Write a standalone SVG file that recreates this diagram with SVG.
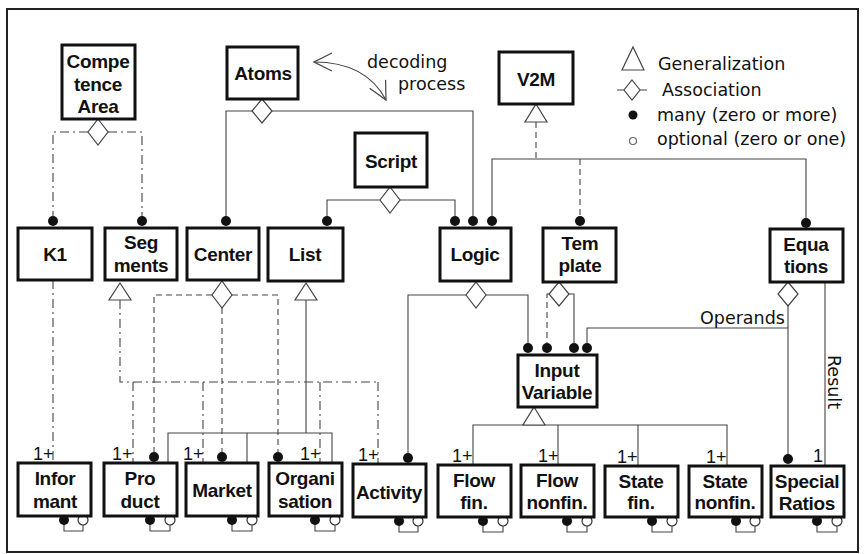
<svg xmlns="http://www.w3.org/2000/svg" width="864" height="554" viewBox="0 0 864 554">
  <defs>
    <style>
      .frame{fill:#fff;stroke:#222;stroke-width:2}
      .box{fill:#fff;stroke:#111;stroke-width:3}
      .lbl{font-family:"Liberation Sans",Arial,sans-serif;font-weight:bold;font-size:19px;letter-spacing:-0.3px;text-anchor:middle;fill:#111}
      .txt{font-family:"DejaVu Sans",Verdana,sans-serif;font-size:17.5px;fill:#111}
      .mult{font-family:"Liberation Sans",Arial,sans-serif;font-size:18px;fill:#111}
      .ln{fill:none;stroke:#444;stroke-width:1.1}
      .dash{stroke-dasharray:6 4}
      .dashdot{stroke-dasharray:9 4 2 4}
      .gen,.assoc{fill:#fff;stroke:#444;stroke-width:1.2}
      .dot{fill:#111}
      .opt{fill:#fff;stroke:#333;stroke-width:1.2}
    </style>
    <marker id="vee" viewBox="0 0 20 20" refX="19" refY="10" markerWidth="20" markerHeight="20" markerUnits="userSpaceOnUse" orient="auto-start-reverse">
      <path d="M1,1 L19,10 L1,19" fill="none" stroke="#444" stroke-width="1.2"/>
    </marker>
  </defs>

  <rect class="frame" x="7" y="9" width="851" height="543"/>

  <!-- connectors -->
  <g id="connectors">
    <!-- Competence Area association -->
    <path class="ln dashdot" d="M88,132 H53 V216 M108,132 H142 V216"/>
    <polygon class="assoc" points="98,119 108,132 98,145 88,132"/>
    <!-- K1 to Informant -->
    <path class="ln dashdot" d="M53,280 V463"/>

    <!-- Atoms association -->
    <path class="ln" d="M252,111 H226 V216 M272,111 H473 V216"/>
    <polygon class="assoc" points="262,99 272,111 262,123 252,111"/>

    <!-- Script association -->
    <path class="ln" d="M380,200 H327 V216 M400,200 H455 V216"/>
    <polygon class="assoc" points="390,187 400,200 390,213 380,200"/>

    <!-- V2M generalization -->
    <path class="ln dash" d="M536,122 V159"/>
    <path class="ln" d="M492,216 V159 H806 V218"/>
    <path class="ln dash" d="M580,159 V216"/>
    <polygon class="gen" points="536,104 547,122 525,122"/>

    <!-- Segments generalization -->
    <path class="ln dashdot" d="M120,300 V382 H378 M133,382 V463 M203,382 V463 M320,382 V463 M378,382 V464"/>
    <polygon class="gen" points="120,283 131,300 109,300"/>

    <!-- Center association -->
    <path class="ln dash" d="M212,295 H154 V452 M232,295 H278 V452 M222,308 V452"/>
    <polygon class="assoc" points="222,281 232,295 222,308 212,295"/>

    <!-- List generalization -->
    <path class="ln" d="M306,300 V433 M168,463 V433 H332 V463 M247,433 V463"/>
    <polygon class="gen" points="306,283 317,300 295,300"/>

    <!-- Logic association -->
    <path class="ln" d="M466,295 H408 V453 M486,295 H528 V343"/>
    <polygon class="assoc" points="476,282 486,295 476,308 466,295"/>

    <!-- Template association -->
    <path class="ln dash" d="M549,294 H547 V343"/>
    <path class="ln" d="M569,294 H574 V343"/>
    <polygon class="assoc" points="559,282 569,294 559,306 549,294"/>

    <!-- Equations: operands and result -->
    <path class="ln" d="M788,306 V454 M788,328 H587 V343"/>
    <polygon class="assoc" points="788,282 798,294 788,306 778,294"/>
    <path class="ln" d="M825,282 V466"/>
    <text class="txt" x="700" y="324">Operands</text>
    <text class="txt" x="828" y="355" font-size="15.5" transform="rotate(90 828 355)">Result</text>

    <!-- Input Variable generalization -->
    <path class="ln" d="M473,465 V425 H727 V466 M558,425 V465 M638,425 V466"/>
    <polygon class="gen" points="534,407 545,425 523,425"/>

    <!-- many-end dots on upper nodes -->
    <circle class="dot" cx="53" cy="221" r="5"/>
    <circle class="dot" cx="142" cy="221" r="5"/>
    <circle class="dot" cx="226" cy="221" r="5"/>
    <circle class="dot" cx="327" cy="221" r="5"/>
    <circle class="dot" cx="455" cy="221" r="5"/>
    <circle class="dot" cx="473" cy="221" r="5"/>
    <circle class="dot" cx="492" cy="221" r="5"/>
    <circle class="dot" cx="580" cy="221" r="5"/>
    <circle class="dot" cx="806" cy="223" r="5"/>
    <circle class="dot" cx="528" cy="348" r="5"/>
    <circle class="dot" cx="547" cy="348" r="5"/>
    <circle class="dot" cx="574" cy="348" r="5"/>
    <circle class="dot" cx="587" cy="348" r="5"/>
    <circle class="dot" cx="154" cy="457" r="5"/>
    <circle class="dot" cx="222" cy="457" r="5"/>
    <circle class="dot" cx="278" cy="457" r="5"/>
    <circle class="dot" cx="408" cy="458" r="5"/>
    <circle class="dot" cx="788" cy="459" r="5"/>

    <!-- multiplicities -->
    <text class="mult" x="33" y="460">1+</text>
    <text class="mult" x="112" y="460">1+</text>
    <text class="mult" x="183" y="460">1+</text>
    <text class="mult" x="300" y="460">1+</text>
    <text class="mult" x="358" y="461">1+</text>
    <text class="mult" x="452" y="462">1+</text>
    <text class="mult" x="538" y="462">1+</text>
    <text class="mult" x="617" y="463">1+</text>
    <text class="mult" x="706" y="463">1+</text>
    <text class="mult" x="813" y="462">1</text>

    <!-- self loops under the lower nodes (many / optional) -->
    <g id="self-loops">
      <path class="ln" d="M64,524 V531 H83 V525"/><circle class="dot" cx="64" cy="520" r="5"/><circle class="opt" cx="83" cy="520" r="5"/>
      <path class="ln" d="M150,524 V531 H170 V525"/><circle class="dot" cx="150" cy="520" r="5"/><circle class="opt" cx="170" cy="520" r="5"/>
      <path class="ln" d="M232,524 V531 H252 V525"/><circle class="dot" cx="232" cy="520" r="5"/><circle class="opt" cx="252" cy="520" r="5"/>
      <path class="ln" d="M315,524 V531 H335 V525"/><circle class="dot" cx="315" cy="520" r="5"/><circle class="opt" cx="335" cy="520" r="5"/>
      <path class="ln" d="M399,525 V532 H418 V526"/><circle class="dot" cx="399" cy="521" r="5"/><circle class="opt" cx="418" cy="521" r="5"/>
      <path class="ln" d="M483,525 V532 H503 V526"/><circle class="dot" cx="483" cy="521" r="5"/><circle class="opt" cx="503" cy="521" r="5"/>
      <path class="ln" d="M567,525 V532 H587 V526"/><circle class="dot" cx="567" cy="521" r="5"/><circle class="opt" cx="587" cy="521" r="5"/>
      <path class="ln" d="M652,525 V532 H672 V526"/><circle class="dot" cx="652" cy="521" r="5"/><circle class="opt" cx="672" cy="521" r="5"/>
      <path class="ln" d="M736,525 V532 H755 V526"/><circle class="dot" cx="736" cy="521" r="5"/><circle class="opt" cx="755" cy="521" r="5"/>
      <path class="ln" d="M817,525 V532 H837 V526"/><circle class="dot" cx="817" cy="521" r="5"/><circle class="opt" cx="837" cy="521" r="5"/>
    </g>

    <!-- decoding process arrow -->
    <path class="ln" d="M314,62 Q366,62 386,100" marker-start="url(#vee)" marker-end="url(#vee)"/>
    <text class="txt" x="367" y="68">decoding</text>
    <text class="txt" x="398" y="90">process</text>
  </g>

  <!-- nodes -->
  <g id="n-competence"><rect class="box" x="62" y="45" width="73" height="74"/>
    <text class="lbl" x="98" y="68">Compe</text><text class="lbl" x="98" y="91">tence</text><text class="lbl" x="98" y="113">Area</text></g>
  <g id="n-atoms"><rect class="box" x="227" y="47" width="71" height="52"/><text class="lbl" x="263" y="80">Atoms</text></g>
  <g id="n-v2m"><rect class="box" x="499" y="52" width="74" height="52"/><text class="lbl" x="536" y="86">V2M</text></g>
  <g id="n-script"><rect class="box" x="355" y="133" width="72" height="54"/><text class="lbl" x="391" y="168">Script</text></g>
  <g id="n-k1"><rect class="box" x="18" y="228" width="74" height="52"/><text class="lbl" x="55" y="261">K1</text></g>
  <g id="n-segments"><rect class="box" x="105" y="228" width="72" height="52"/>
    <text class="lbl" x="141" y="249">Seg</text><text class="lbl" x="141" y="272">ments</text></g>
  <g id="n-center"><rect class="box" x="187" y="228" width="72" height="52"/><text class="lbl" x="223" y="261">Center</text></g>
  <g id="n-list"><rect class="box" x="268" y="228" width="75" height="53"/><text class="lbl" x="305" y="261">List</text></g>
  <g id="n-logic"><rect class="box" x="440" y="228" width="71" height="53"/><text class="lbl" x="475" y="261">Logic</text></g>
  <g id="n-template"><rect class="box" x="543" y="228" width="73" height="54"/>
    <text class="lbl" x="580" y="250">Tem</text><text class="lbl" x="580" y="272">plate</text></g>
  <g id="n-equations"><rect class="box" x="770" y="229" width="73" height="53"/>
    <text class="lbl" x="806" y="251">Equa</text><text class="lbl" x="806" y="273">tions</text></g>
  <g id="n-input"><rect class="box" x="518" y="355" width="79" height="52"/>
    <text class="lbl" x="557" y="377">Input</text><text class="lbl" x="557" y="399">Variable</text></g>
  <g id="n-informant"><rect class="box" x="18" y="463" width="73" height="53"/>
    <text class="lbl" x="55" y="485">Infor</text><text class="lbl" x="55" y="508">mant</text></g>
  <g id="n-product"><rect class="box" x="104" y="463" width="73" height="53"/>
    <text class="lbl" x="140" y="485">Pro</text><text class="lbl" x="140" y="508">duct</text></g>
  <g id="n-market"><rect class="box" x="186" y="463" width="72" height="53"/><text class="lbl" x="222" y="497">Market</text></g>
  <g id="n-organisation"><rect class="box" x="269" y="463" width="73" height="53"/>
    <text class="lbl" x="305" y="485">Organi</text><text class="lbl" x="305" y="508">sation</text></g>
  <g id="n-activity"><rect class="box" x="353" y="464" width="73" height="53"/><text class="lbl" x="389" y="499">Activity</text></g>
  <g id="n-flowfin"><rect class="box" x="438" y="465" width="73" height="52"/>
    <text class="lbl" x="474" y="487">Flow</text><text class="lbl" x="474" y="509">fin.</text></g>
  <g id="n-flownonfin"><rect class="box" x="521" y="465" width="73" height="52"/>
    <text class="lbl" x="557" y="487">Flow</text><text class="lbl" x="557" y="509">nonfin.</text></g>
  <g id="n-statefin"><rect class="box" x="605" y="466" width="73" height="51"/>
    <text class="lbl" x="641" y="488">State</text><text class="lbl" x="641" y="509">fin.</text></g>
  <g id="n-statenonfin"><rect class="box" x="689" y="466" width="73" height="51"/>
    <text class="lbl" x="725" y="488">State</text><text class="lbl" x="725" y="509">nonfin.</text></g>
  <g id="n-special"><rect class="box" x="771" y="466" width="73" height="51"/>
    <text class="lbl" x="807" y="488">Special</text><text class="lbl" x="807" y="510">Ratios</text></g>

  <!-- legend -->
  <g id="legend">
    <polygon class="gen" points="633,47 644,70 622,70"/>
    <text class="txt" x="658" y="70">Generalization</text>
    <path class="ln" d="M617,90 H624 M640,90 H647"/>
    <polygon class="assoc" points="632,80 640,90 632,100 624,90"/>
    <text class="txt" x="662" y="96">Association</text>
    <circle class="dot" cx="633" cy="115" r="4.5"/>
    <text class="txt" x="657" y="121">many (zero or more)</text>
    <circle fill="#fff" stroke="#666" stroke-width="1.2" cx="633" cy="141" r="3.5"/>
    <text class="txt" x="657" y="145">optional (zero or one)</text>
  </g>
</svg>
